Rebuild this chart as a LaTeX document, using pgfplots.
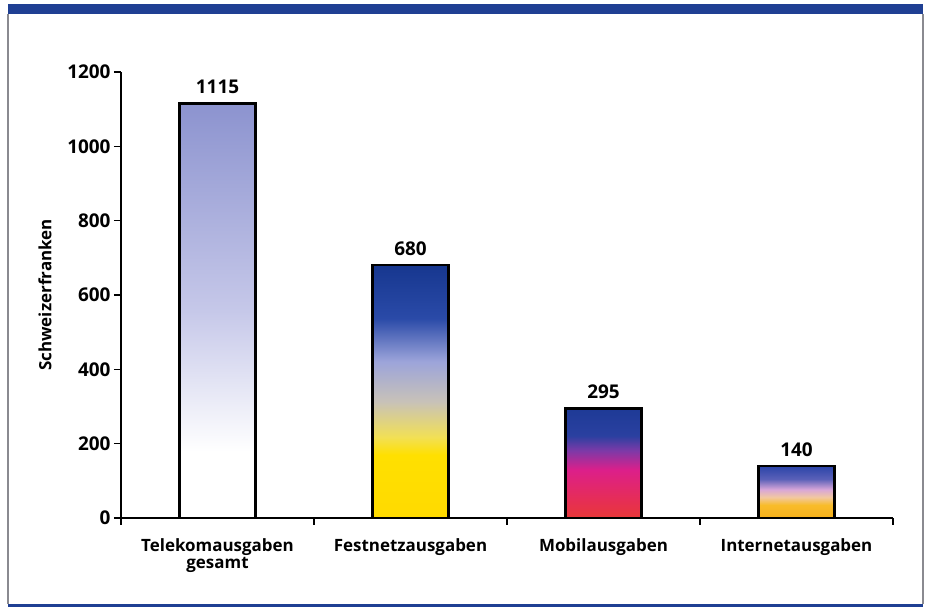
\documentclass[border=0pt]{standalone}
\usepackage{pgfplots}
\pgfplotsset{compat=1.18}
\usepackage{fontspec}
\setmainfont{Open Sans}
\definecolor{frameblue}{HTML}{1F3F93}
\definecolor{framegray}{HTML}{8A8A90}
\definecolor{tkTop}{HTML}{8C93CF}
\definecolor{tkMid}{HTML}{C6C8E9}
\pgfdeclareverticalshading{telekom}{100bp}{color(0bp)=(white); color(25bp)=(white); color(33bp)=(white); color(50bp)=(tkMid); color(75bp)=(tkTop); color(100bp)=(tkTop)}
\definecolor{fA}{HTML}{FFDA00}
\definecolor{fB}{HTML}{FFE000}
\definecolor{fC}{HTML}{F2E055}
\definecolor{fD}{HTML}{C8C2B8}
\definecolor{fE}{HTML}{9CA4DA}
\definecolor{fF}{HTML}{2A4AA8}
\definecolor{fG}{HTML}{17378F}
\pgfdeclareverticalshading{festnetz}{100bp}{color(0bp)=(fA); color(25bp)=(fA); color(37.5bp)=(fB); color(41bp)=(fC); color(48bp)=(fD); color(56bp)=(fE); color(64.5bp)=(fF); color(75bp)=(fG); color(100bp)=(fG)}
\definecolor{mA}{HTML}{E83838}
\definecolor{mB}{HTML}{E62E55}
\definecolor{mC}{HTML}{DC1F8A}
\definecolor{mD}{HTML}{7A3AA8}
\definecolor{mE}{HTML}{2A40A0}
\definecolor{mF}{HTML}{1E3A96}
\pgfdeclareverticalshading{mobil}{100bp}{color(0bp)=(mA); color(25bp)=(mA); color(33bp)=(mB); color(47bp)=(mC); color(56bp)=(mD); color(62.5bp)=(mE); color(75bp)=(mF); color(100bp)=(mF)}
\definecolor{iA}{HTML}{F6B01C}
\definecolor{iB}{HTML}{F8BC2A}
\definecolor{iC}{HTML}{F2C8A0}
\definecolor{iD}{HTML}{D8A6D8}
\definecolor{iE}{HTML}{5A60B8}
\definecolor{iF}{HTML}{2A44A8}
\pgfdeclareverticalshading{internet}{100bp}{color(0bp)=(iA); color(25bp)=(iA); color(37.5bp)=(iB); color(45bp)=(iC); color(52.5bp)=(iD); color(62.5bp)=(iE); color(75bp)=(iF); color(100bp)=(iF)}
\begin{document}
\begin{tikzpicture}
\useasboundingbox (0,0) rectangle (929bp,607bp);
\fill[white] (0,0) rectangle (929bp,607bp);
% frame
\fill[frameblue] (8bp,593bp) rectangle (923bp,603bp);
\fill[frameblue] (8bp,0bp) rectangle (923bp,3bp);
\draw[framegray, line width=1.5bp] (8bp,3bp) -- (8bp,593bp);
\draw[framegray, line width=1.5bp] (923bp,3bp) -- (923bp,593bp);
\begin{axis}[
  at={(121bp,89bp)}, anchor=south west,
  scale only axis, width=772bp, height=446bp,
  xmin=-0.5, xmax=3.5, ymin=0, ymax=1200,
  axis x line=bottom, axis y line=left,
  axis line style={-, line width=1.5bp, black},
  tick style={line width=1.5bp, black},
  tick align=outside, major tick length=7bp,
  ytick={0,200,...,1200},
  xtick={-0.5,0.5,1.5,2.5,3.5},
  x tick label as interval,
  xticklabels={{Telekomausgaben\\gesamt},Festnetzausgaben,Mobilausgaben,Internetausgaben},
  xticklabel style={align=center, font=\fontsize{17}{17.5}\selectfont\bfseries, yshift=-10bp},
  yticklabel style={font=\fontsize{19}{19}\selectfont\bfseries},
  /pgf/number format/.cd, 1000 sep={}, assume math mode=true, /pgfplots/.cd,
  ylabel={Schweizerfranken},
  every axis y label/.style={at={(axis description cs:0,0.5)}, xshift=-76bp, rotate=90, anchor=center, font=\fontsize{17}{17}\selectfont\bfseries},
  nodes near coords,
  nodes near coords style={font=\fontsize{19}{19}\selectfont\bfseries, anchor=south, yshift=5bp},
  clip=false,
]
\addplot[ybar, bar shift=0pt, bar width=0.394, draw=black, line width=2.4bp, shading=telekom] coordinates {(0,1115)};
\addplot[ybar, bar shift=0pt, bar width=0.394, draw=black, line width=2.4bp, shading=festnetz] coordinates {(1,680)};
\addplot[ybar, bar shift=0pt, bar width=0.394, draw=black, line width=2.4bp, shading=mobil] coordinates {(2,295)};
\addplot[ybar, bar shift=0pt, bar width=0.394, draw=black, line width=2.4bp, shading=internet] coordinates {(3,140)};
\end{axis}
\end{tikzpicture}
\end{document}
